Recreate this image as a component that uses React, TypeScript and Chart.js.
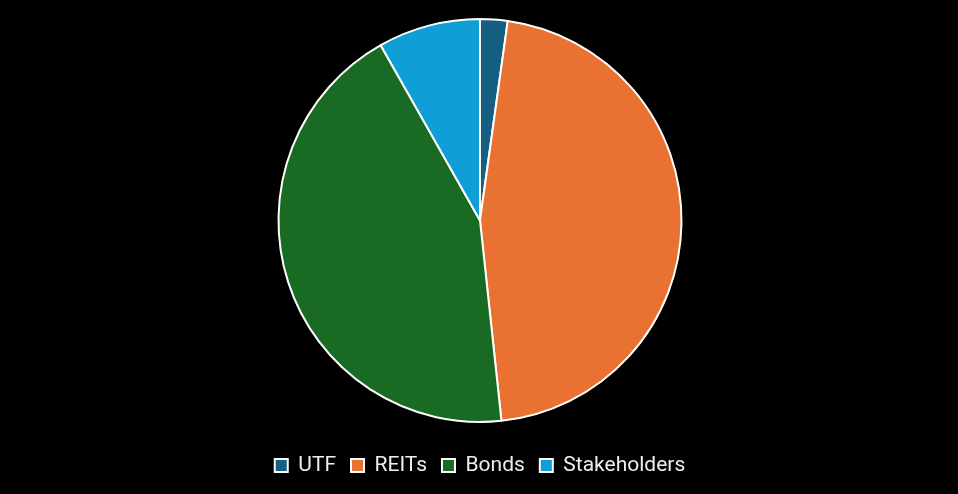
import React, { useEffect, useRef } from "react";
import { Chart, registerables } from "chart.js";

Chart.register(...registerables);

const categories = ["UTF", "REITs", "Bonds", "Stakeholders"];
const values = [2.2, 46.1, 43.5, 8.2];
const colors = ["#156082", "#E97132", "#196B24", "#0F9ED5"];

export default function App() {
  const ref = useRef<HTMLCanvasElement>(null);
  useEffect(() => {
    document.body.style.margin = "0";
    document.body.style.background = "#000";
    const chart = new Chart(ref.current!, {
      type: "pie",
      data: {
        labels: categories,
        datasets: [
          {
            data: values,
            backgroundColor: colors,
            borderColor: "#ffffff",
            borderWidth: 2,
          },
        ],
      },
      options: {
        animation: false,
        responsive: false,
        maintainAspectRatio: false,
        layout: { padding: { top: 18, bottom: 8, left: 2 } },
        plugins: {
          tooltip: { enabled: false },
          legend: {
            position: "bottom",
            title: {
              display: true,
              text: "",
              padding: 0,
              font: { size: 17, lineHeight: 1 },
            },
            labels: {
              color: "#eeeeee",
              boxWidth: 13,
              boxHeight: 13,
              padding: 15,
              font: { family: "Roboto, sans-serif", size: 21 },
            },
          },
        },
      },
    });
    return () => chart.destroy();
  }, []);
  return (
    <div style={{ width: 958, height: 494, background: "#000" }}>
      <canvas ref={ref} width={958} height={494} />
    </div>
  );
}
